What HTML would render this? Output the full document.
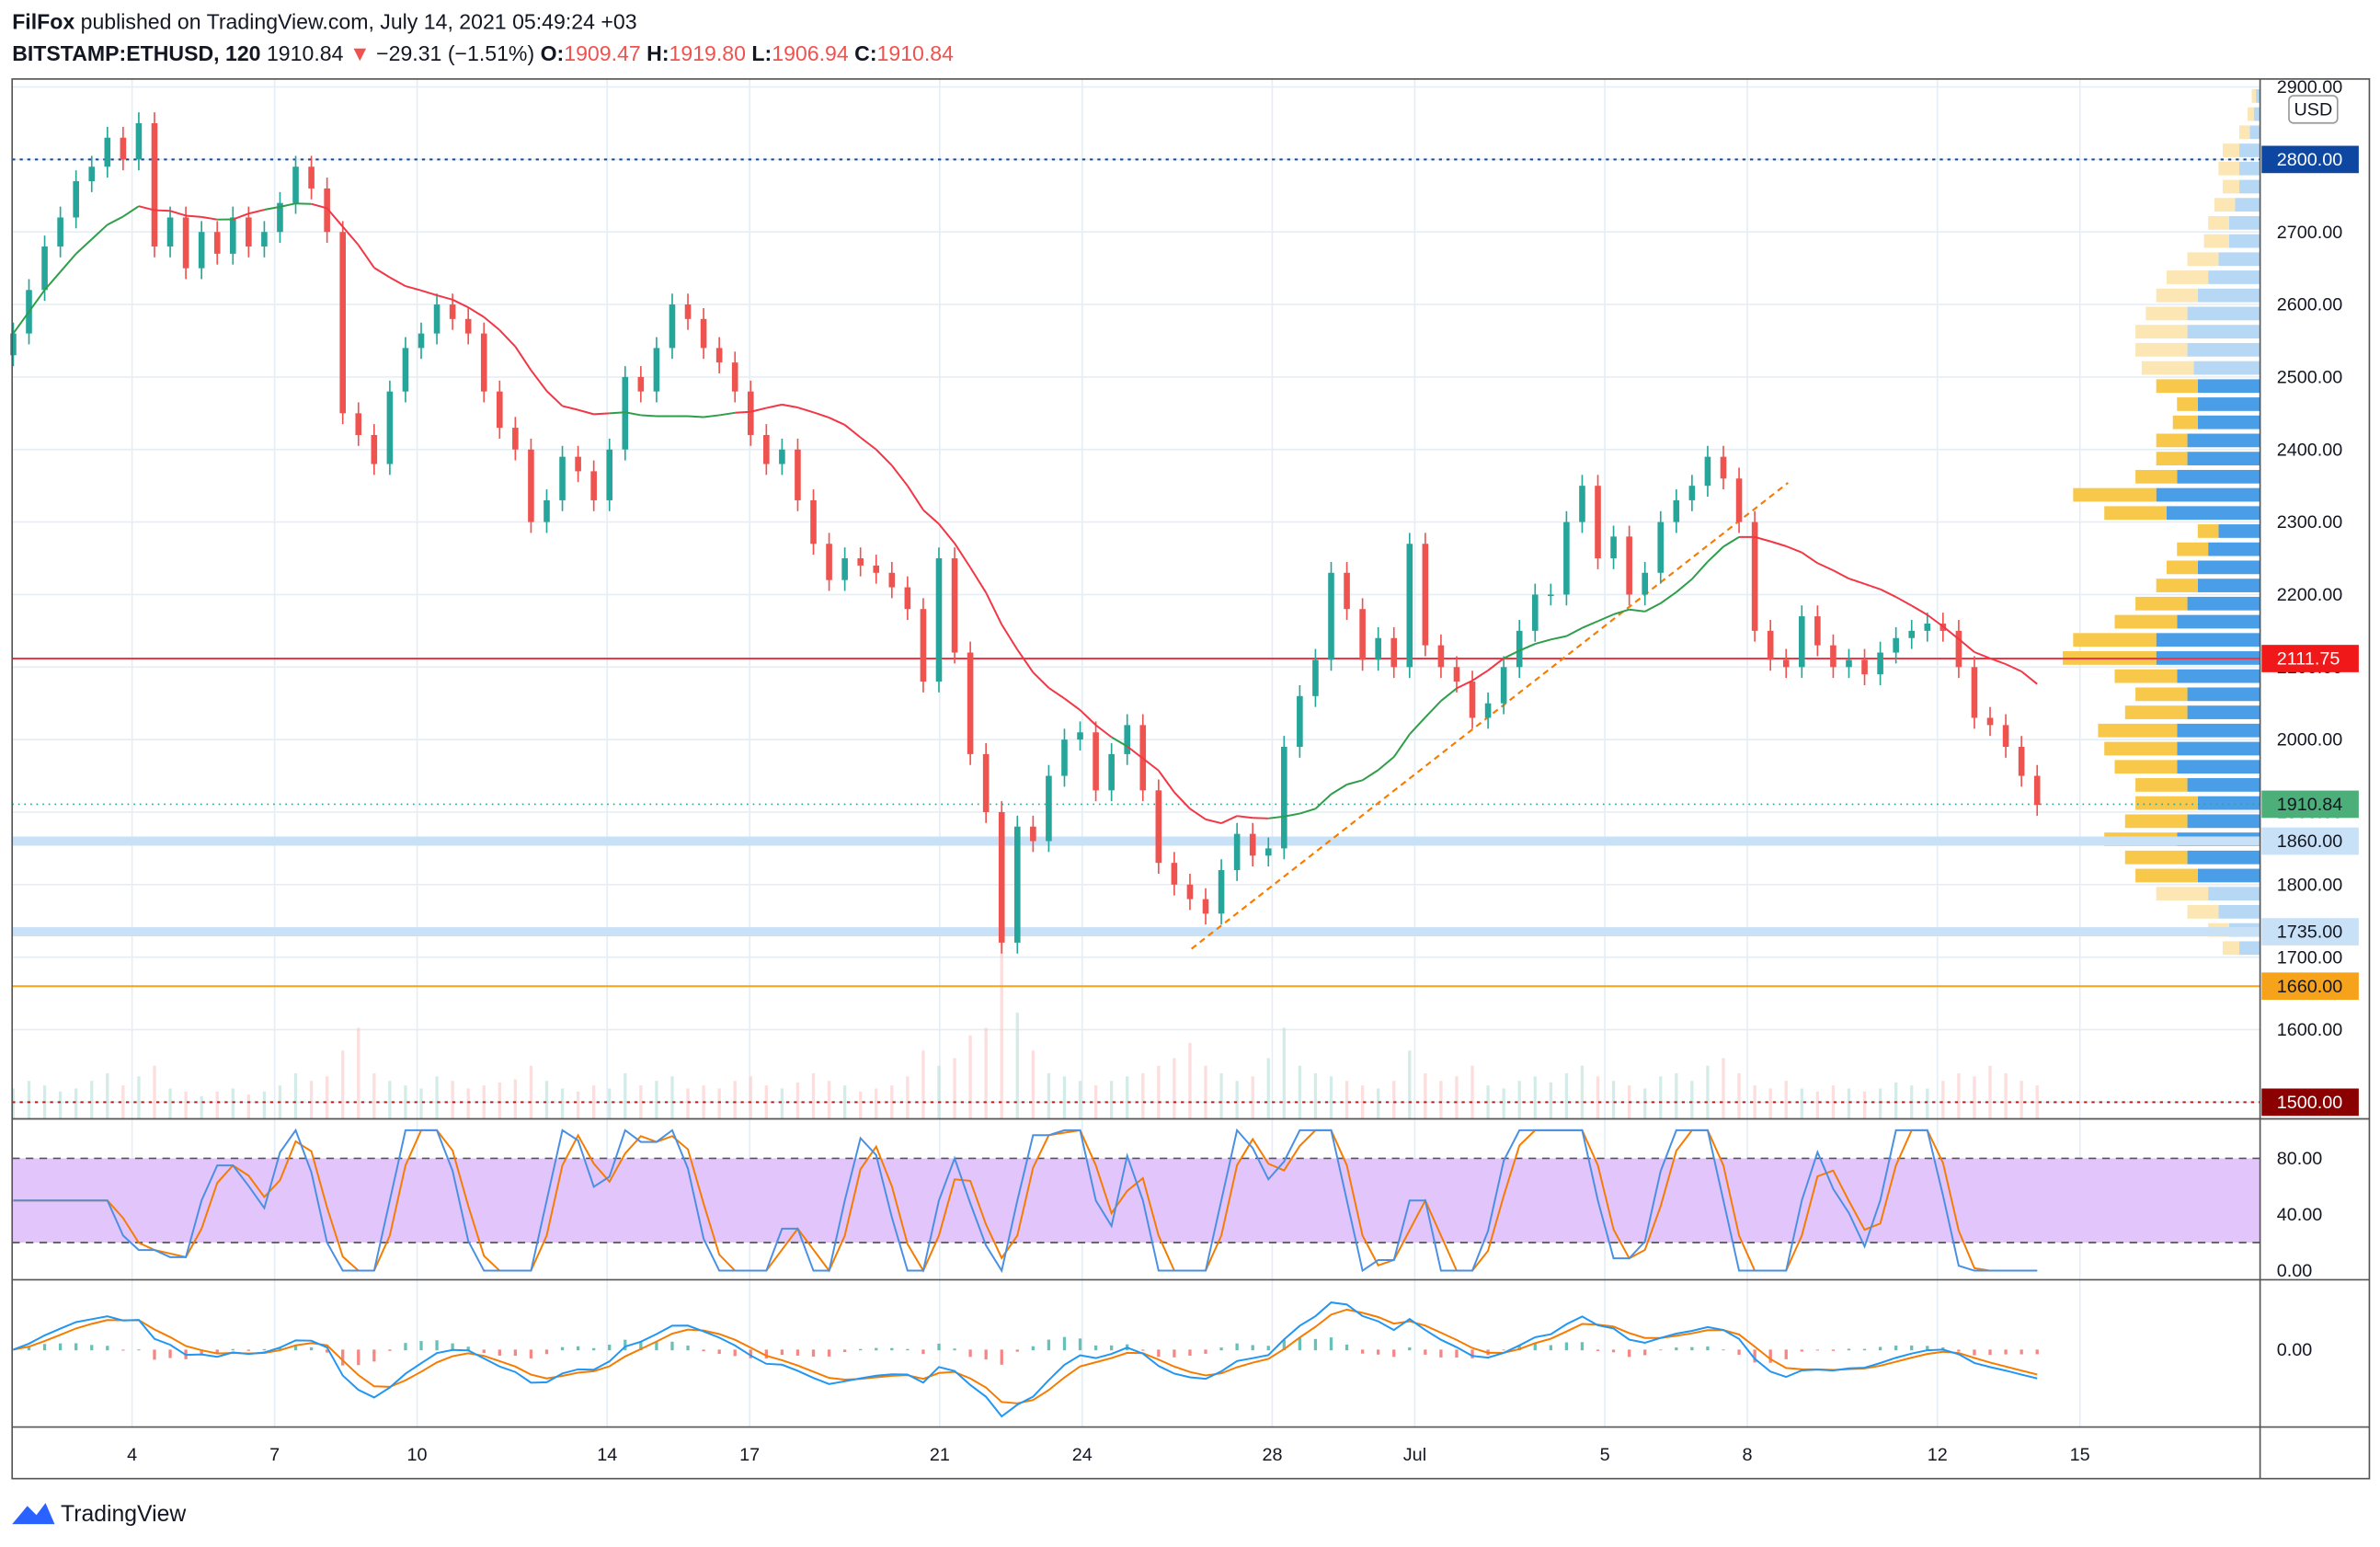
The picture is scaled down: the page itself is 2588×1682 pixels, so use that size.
<!DOCTYPE html>
<html><head><meta charset="utf-8"><style>
html,body{margin:0;padding:0;background:#fff}
svg{display:block;font-family:"Liberation Sans",sans-serif}
</style></head><body>
<svg id="c" width="2588" height="1682" viewBox="0 0 1568 1019" xmlns="http://www.w3.org/2000/svg">
<rect x="0" y="0" width="1568" height="1019" fill="#fff"/>
<text x="8" y="19" font-size="14" fill="#131722"><tspan font-weight="bold">FilFox</tspan> published on TradingView.com, July 14, 2021 05:49:24 +03</text>
<text x="8" y="40" font-size="14" fill="#131722"><tspan font-weight="bold">BITSTAMP:ETHUSD, 120</tspan> 1910.84 <tspan fill="#ef5350">▼</tspan> −29.31 (−1.51%) <tspan font-weight="bold">O:</tspan><tspan fill="#ef5350">1909.47</tspan> <tspan font-weight="bold">H:</tspan><tspan fill="#ef5350">1919.80</tspan> <tspan font-weight="bold">L:</tspan><tspan fill="#ef5350">1906.94</tspan> <tspan font-weight="bold">C:</tspan><tspan fill="#ef5350">1910.84</tspan></text>
<g id="grid"></g>
<g id="vol"></g>
<g id="prof"></g>
<g id="levels"></g>
<g id="candles"></g>
<g id="ma"></g>
<g id="rsi"></g>
<g id="macd"></g>
<g id="axes"></g>
<text x="40" y="1002" font-size="15" fill="#131722">TradingView</text>
<path d="M8 1004 L18 992 L24 998 L30 990 L36 1004 Z" fill="#2962ff"/>
</svg>
<script>
const closes=[2560,2620,2680, 2720,2770,2790, 2830,2800,2850, 2680,2720,2650, 2700,2670,2720, 2680,2700,2740,
2790,2760,2700, 2450,2420,2380, 2480,2540,2560, 2600,2580,2560, 2480,2430,2400, 2300,2330,2390,
2370,2330,2400, 2500,2480,2540, 2600,2580,2540, 2520,2480,2420, 2380,2400,2330, 2270,2220,2250,
2240,2230,2210, 2180,2080,2250, 2120,1980,1900, 1720,1880,1860, 1950,2000,2010, 1930,1980,2020,
1930,1830,1800, 1780,1760,1820, 1870,1840,1850, 1990,2060,2110, 2230,2180,2110, 2140,2100,2270,
2130,2100,2080, 2030,2050,2100, 2150,2200,2200, 2300,2350,2250, 2280,2200,2230, 2300,2330,2350,
2390,2360,2300, 2150,2110,2100, 2170,2130,2100, 2110,2090,2120, 2140,2150,2160, 2150,2100,2030,
2020,1990,1950, 1910];
const volumes=[20,25,22,18,20,25,30,22,28,35,20,18,15,18,20,16,18,22,30,25,28,45,60,30,25,22,20,28,25,20,
22,24,26,35,25,20,18,22,20,30,22,25,28,20,22,20,25,28,22,20,24,30,25,22,18,20,22,28,45,35,
40,55,60,120,70,45,30,28,25,22,25,28,30,35,40,50,35,30,25,28,40,60,35,30,28,25,22,20,25,45,
30,25,28,35,22,20,25,28,24,30,35,28,25,22,20,28,30,25,35,40,30,22,20,25,20,18,22,20,18,20,
24,22,20,25,30,28,35,30,25,22];
const profPrices=[1700,1725,1750,1775,1800,1825,1850,1875,1900,1925,1950,1975,2000,2025,2050,2075,2100,2125,2150,2175,2200,2225,2250,2275,2300,2325,2350,2375,2400,2425,2450,2475,2500,2525,2550,2575,2600,2625,2650,2675,2700,2725,2750,2775,2800,2825,2850,2875];
const profUp=[10,15,20,25,30,35,40,35,30,35,40,40,40,35,35,40,50,50,40,35,30,30,25,20,45,50,40,35,35,30,30,30,32,35,35,35,30,25,20,15,15,12,10,10,10,5,3,2];
const profDown=[8,10,15,25,30,30,35,30,30,25,30,35,38,30,25,30,45,40,30,25,20,15,15,10,30,40,20,15,15,12,10,20,25,25,25,20,20,20,15,12,10,10,8,10,8,5,3,2];
const priceTicks=[2900,2800,2700,2600,2500,2400,2300,2200,2100,2000,1900,1800,1700,1600,1500];
const dateTicks=[[4,"4"],[7,"7"],[10,"10"],[14,"14"],[17,"17"],[21,"21"],[24,"24"],[28,"28"],[31,"Jul"],[35,"5"],[38,"8"],[42,"12"],[45,"15"]];
const rsiTicks=[80,40,0];

const NS="http://www.w3.org/2000/svg";
function mk(par,tag,at){const e=document.createElementNS(NS,tag);for(const k in at)e.setAttribute(k,at[k]);document.getElementById(par).appendChild(e);return e;}
const L=8,R=1489,TOP=52,MB=737;
const yP=p=>105+(2800-p)*0.4777;
const xD=d=>87+(d-4)*31.3;
const n=closes.length, step=(44.1-1.5)/(n-1);
const xI=i=>xD(1.5+i*step);
const yR=v=>837-v*0.925;
const Y0M=889;

priceTicks.forEach(p=>{let e=mk('grid','line',{x1:L,x2:R,y1:yP(p),y2:yP(p),stroke:'#e6eef5','stroke-width':1});
});
dateTicks.forEach(t=>{let e=mk('grid','line',{x1:xD(t[0]),x2:xD(t[0]),y1:TOP,y2:940,stroke:'#e6eef5','stroke-width':1});
});
const vmax=Math.max(...volumes);
volumes.forEach((v,i)=>{const up=i==0||closes[i]>=closes[i-1];const h=v/vmax*120;
let e=mk('vol','rect',{x:xI(i)-1,y:MB-h,width:2,height:h,fill:up?'#b8e0d8':'#f8c8c6',opacity:0.6});
});
const pmax=Math.max(...profUp.map((u,i)=>u+profDown[i]));
profPrices.forEach((p,i)=>{const sc=130/pmax;const va=p>=1800&&p<=2475;const yt=yP(p+25)+1.5,h=25*0.4777-3;
const bu=profUp[i]*sc,bd=profDown[i]*sc;
let a=mk('prof','rect',{x:R-bu,y:yt,width:bu,height:h,fill:va?'#4a9ee8':'#b7d8f5'});

let b=mk('prof','rect',{x:R-bu-bd,y:yt,width:bd,height:h,fill:va?'#f7c84a':'#fbe6b4'});
});
function lev(name,p,col,w,dash){let e=mk('levels','line',{x1:L,x2:R,y1:yP(p),y2:yP(p),stroke:col,'stroke-width':w});if(dash)e.setAttribute('stroke-dasharray',dash);
}
lev('level-2800',2800,'#0d47a1',1.2,'2 3');
lev('level-2111',2111.75,'#f23645',1.2);
lev('level-1860',1860,'#c8e1f7',6);
lev('level-1735',1735,'#c8e1f7',6);
lev('level-1660',1660,'#f7a21b',1.2);
lev('level-1500',1500,'#b22222',1.2,'2 3');
lev('last-price-line',1910.84,'#26a69a',1,'1 3');
let tl=mk('levels','line',{x1:785,y1:625,x2:1178,y2:318,stroke:'#f57c00','stroke-width':1.3,'stroke-dasharray':'4 3'});

closes.forEach((c,i)=>{const o=i?closes[i-1]:c-30;const up=c>=o;const col=up?'#26a69a':'#ef5350';const x=xI(i);
let w=mk('candles','line',{x1:x,x2:x,y1:yP(Math.max(o,c)+15),y2:yP(Math.min(o,c)-15),stroke:col,'stroke-width':1});

const y1=yP(Math.max(o,c)),y2=yP(Math.min(o,c));
let b=mk('candles','rect',{x:x-2,y:y1,width:4,height:Math.max(1,y2-y1),fill:col});
});
const P=15;const ma=closes.map((c,i)=>{const s=closes.slice(Math.max(0,i-P+1),i+1);return s.reduce((a,b)=>a+b,0)/s.length;});
for(let i=1;i<n;i++){const col=closes[i]>ma[i]?'#2e9e4a':'#f23645';
let e=mk('ma','line',{x1:xI(i-1),y1:yP(ma[i-1]),x2:xI(i),y2:yP(ma[i]),stroke:col,'stroke-width':1.2});
}
let band=mk('rsi','rect',{x:L,y:yR(80),width:R-L,height:yR(20)-yR(80),fill:'#e2c6fb'});

[80,20].forEach(v=>{let e=mk('rsi','line',{x1:L,x2:R,y1:yR(v),y2:yR(v),stroke:'#555','stroke-width':1,'stroke-dasharray':'5 4'});
});
const RP=4;let rsi=[];let ag=0,al=0;
for(let i=1;i<n;i++){const d=closes[i]-closes[i-1];const g=Math.max(d,0),l=Math.max(-d,0);
if(i<=RP){ag+=g/RP;al+=l/RP;}else{ag=(ag*(RP-1)+g)/RP;al=(al*(RP-1)+l)/RP;}
rsi[i]=al==0?100:100-100/(1+ag/al);}
rsi[0]=rsi[1];
const st=rsi.map((r,i)=>{const s=rsi.slice(Math.max(0,i-RP+1),i+1);const mn=Math.min(...s),mx=Math.max(...s);return mx==mn?50:(r-mn)/(mx-mn)*100;});
const sma=(a,k)=>a.map((v,i)=>{const s=a.slice(Math.max(0,i-k+1),i+1);return s.reduce((x,y)=>x+y,0)/s.length;});
const K=sma(st,2),D=sma(K,2);
function pl(par,arr,yf,col,name){let e=mk(par,'polyline',{points:arr.map((v,i)=>xI(i)+','+yf(v)).join(' '),fill:'none',stroke:col,'stroke-width':1.2});
}
pl('rsi',D,yR,'#f57c00','stoch-rsi-d-line');
pl('rsi',K,yR,'#4a90e2','stoch-rsi-k-line');
const ema=(a,k)=>{const m=2/(k+1);let r=[a[0]];for(let i=1;i<a.length;i++)r.push(a[i]*m+r[i-1]*(1-m));return r;};
const e12=ema(closes,4),e26=ema(closes,9);const mac=closes.map((c,i)=>e12[i]-e26[i]);const sig=ema(mac,3);
const mm=Math.max(...mac.map(Math.abs));const yM=v=>Y0M-v/mm*44;
mac.forEach((v,i)=>{const h=v-sig[i];const y=yM(h);
let e=mk('macd','rect',{x:xI(i)-1,y:Math.min(y,Y0M),width:2,height:Math.abs(y-Y0M)+0.5,fill:h>=0?'#26a69a':'#ef5350',opacity:0.7});
});
pl('macd',sig,yM,'#f57c00','macd-signal-line');
pl('macd',mac,yM,'#2196f3','macd-line');
function ln(name,x1,y1,x2,y2,col,w){let e=mk('axes','line',{x1,y1,x2,y2,stroke:col,'stroke-width':w});}
let fr=mk('axes','rect',{x:L,y:TOP,width:1561-L,height:974-TOP,fill:'none',stroke:'#555','stroke-width':1});

ln('price-axis-line',R,TOP,R,974,'#555',1);
ln('pane-separator-rsi',L,MB,1561,MB,'#555',1);
ln('pane-separator-macd',L,843,1561,843,'#555',1);
ln('time-axis-line',L,940,1561,940,'#555',1);
function txt(name,x,y,s,fill,size,anchor){let e=mk('axes','text',{x,y,fill,'font-size':size||12,'text-anchor':anchor||'start'});e.textContent=s;return e;}
priceTicks.forEach(p=>{txt('price-tick-label',1500,yP(p)+4,p.toFixed(2),'#131722');});
dateTicks.forEach(t=>{txt('date-tick-label',xD(t[0]),962,t[1],'#131722',12,'middle');});
rsiTicks.forEach(v=>{txt('stoch-rsi-tick-label',1500,yR(v)+4,v.toFixed(2),'#131722');});
txt('macd-tick-label',1500,Y0M+4,'0.00','#131722');
let ub=mk('axes','rect',{x:1508,y:63,width:32,height:18,rx:3,fill:'#fff',stroke:'#999','stroke-width':1});

txt('currency-label',1524,76,'USD','#131722',12,'middle');
function tag(name,p,s,bg,fg){let r=mk('axes','rect',{x:R+1,y:yP(p)-9,width:64,height:18,fill:bg});
txt(name+'-text',1500,yP(p)+4,s,fg);}
tag('tag-2800',2800,'2800.00','#0d47a1','#fff');
tag('tag-2111',2111.75,'2111.75','#f01818','#fff');
tag('tag-last',1910.84,'1910.84','#4caf7a','#131722');
tag('tag-1860',1860,'1860.00','#c8e1f7','#131722');
tag('tag-1735',1735,'1735.00','#c8e1f7','#131722');
tag('tag-1660',1660,'1660.00','#f7a21b','#131722');
tag('tag-1500',1500,'1500.00','#8b0000','#fff');
</script>
</body></html>
